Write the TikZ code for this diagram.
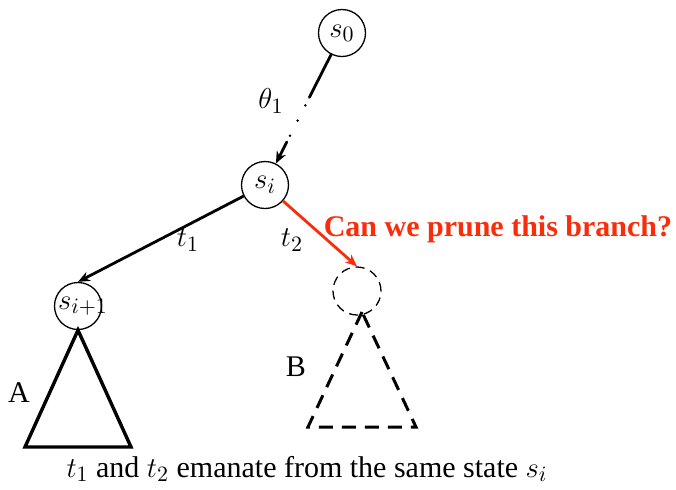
\documentclass[tikz,border=0pt]{standalone}
\usepackage{fontspec}
\setmainfont{Liberation Serif}
\usetikzlibrary{arrows.meta}
\definecolor{pruneRed}{RGB}{250,45,10}
\begin{document}
\begin{tikzpicture}[x=0.5pt,y=-0.5pt,
  every node/.style={font=\fontsize{15}{18}\selectfont},
  state/.style={circle,draw,line width=0.65pt,minimum size=23.5pt,inner sep=0pt},
  ghost/.style={circle,draw,line width=0.65pt,minimum size=24pt,inner sep=0pt,dash pattern=on 4.5pt off 3pt},
  edge/.style={line width=1.4pt,-{Stealth[length=6pt,width=5pt,inset=2pt]}},
  solidtri/.style={line width=1.7pt,line join=miter},
  dashtri/.style={line width=1.5pt,dash pattern=on 7pt off 4.5pt}]
\useasboundingbox (0,0) rectangle (676,489);
\node[state] (s0) at (342,33) {$s_0$};
\node[state] (si) at (265,185) {$s_i$};
\node[state] (sip) at (78,306) {};
\node (siplabel) at (83,306) {$s_{i+1}$};
\node[ghost] (g) at (357,291) {};
% edges
\draw[edge,line cap=round,dash pattern=on 24pt off 4.5pt on 0pt off 8.5pt on 0pt off 8.5pt on 0pt off 3.5pt on 40pt] (s0) -- (si);
\node (theta) at (271,101) {$\theta_1$};
\draw[edge] (si) -- (sip.north);
\node (t1) at (188,240) {$t_1$};
\draw[edge,pruneRed] (si) -- (g.north);
\node (t2) at (292,240) {$t_2$};
\node[text=pruneRed,font=\fontsize{15}{18}\selectfont\bfseries] (q) at (498,229) {Can we prune this branch?};
% triangles
\coordinate (aT) at (sip.south);
\coordinate (aL) at (25,447);
\coordinate (aR) at (131,447);
\draw[solidtri] (aT) -- (aL) -- (aR) -- cycle;
\node (A) at (19,393) {A};
\coordinate (bT) at (362,312);
\coordinate (bL) at (308,427);
\coordinate (bR) at (416,427);
\draw[dashtri] (bT) -- (bL) -- (bR) -- cycle;
\node (B) at (296,367) {B};
\node (cap) at (307,469) {$t_1$ and $t_2$ emanate from the same state $s_i$};
\end{tikzpicture}
\end{document}
